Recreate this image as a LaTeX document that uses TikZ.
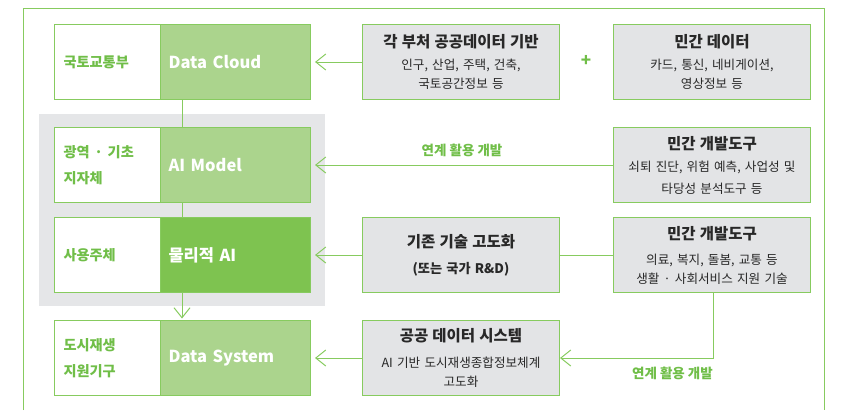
\documentclass[tikz,border=0pt]{standalone}
\usepackage{fontspec}
\setmainfont{Noto Sans CJK KR}
\usetikzlibrary{arrows.meta}
\definecolor{lgreen}{RGB}{171,212,141}
\definecolor{dgreen}{RGB}{126,195,80}
\definecolor{lineg}{RGB}{135,203,95}
\definecolor{greyfill}{RGB}{227,228,230}
\definecolor{bggrey}{RGB}{229,230,232}
\definecolor{txtgreen}{RGB}{112,190,72}
\definecolor{txtdark}{RGB}{40,40,40}
\tikzset{
  lbl/.style={draw=lineg, line width=1pt, fill=white, minimum width=106pt, minimum height=75pt,
    anchor=north west, text width=88pt, inner xsep=9pt, inner ysep=0pt, align=left,
    font=\fontsize{14.2}{25.5}\selectfont\bfseries, text=txtgreen},
  gbox/.style={draw=lineg, line width=1pt, fill=lgreen, minimum width=150pt, minimum height=75pt,
    anchor=north west, text width=134pt, inner xsep=8pt, inner ysep=0pt, align=left,
    font=\fontsize{16.5}{20}\selectfont\bfseries, text=white},
  rbox/.style={draw=lineg, line width=1pt, fill=greyfill, minimum width=197pt, minimum height=75pt,
    anchor=north west, text width=189pt, inner xsep=4pt, inner ysep=0pt, align=center,
    font=\fontsize{12.6}{19}\selectfont, text=txtdark},
  conn/.style={draw=lineg, line width=1pt},
  arr/.style={conn, -{Straight Barb[length=10pt,width=16pt]}, shorten >=4pt},
  glabel/.style={text=txtgreen, font=\fontsize{13.5}{15}\selectfont\bfseries, inner sep=0pt},
}
\newcommand{\boxtitle}[1]{{\bfseries\fontsize{15.5}{19}\selectfont #1}}
\begin{document}
\begin{tikzpicture}[x=1pt,y=-1pt]
\useasboundingbox (0,0) rectangle (854,410);
% outer frame
\draw[conn] (23,410) -- (23,8) -- (824,8) -- (824,410);
% grey background
\fill[bggrey] (39,114) rectangle (325,306);
% left column
\node[lbl] (l1) at (54,24) {국토교통부};
\node[gbox] (g1) at (160,24) {Data Cloud};
\node[lbl] (l2) at (54,127) {광역 · 기초\\지자체};
\node[gbox] (g2) at (160,127) {AI Model};
\node[lbl] (l3) at (54,217) {사용주체};
\node[gbox, fill=dgreen] (g3) at (160,217) {물리적 AI};
\node[lbl] (l4) at (54,320) {도시재생\\지원기구};
\node[gbox] (g4) at (160,320) {Data System};
% right column 1
\node[rbox] (r1) at (362,24) {\boxtitle{각 부처 공공데이터 기반}\\[3pt]인구, 산업, 주택, 건축,\\국토공간정보 등};
\node[rbox] (r3) at (362,217) {\boxtitle{기존 기술 고도화}\\[7pt]{\bfseries\fontsize{13.2}{15}\selectfont (또는 국가 R\&D)}};
\node[rbox] (r4) at (362,320) {\boxtitle{공공 데이터 시스템}\\[7pt]AI 기반 도시재생종합정보체계\\고도화};
% right column 2
\node[rbox] (s1) at (613,24) {\boxtitle{민간 데이터}\\[3pt]카드, 통신, 네비게이션,\\영상정보 등};
\node[rbox] (s2) at (613,127) {\boxtitle{민간 개발도구}\\[3pt]쇠퇴 진단, 위험 예측, 사업성 및\\[3pt]타당성 분석도구 등};
\node[rbox] (s3) at (613,217) {\boxtitle{민간 개발도구}\\[6pt]의료, 복지, 돌봄, 교통 등\\생활 · 사회서비스 지원 기술};
% plus
\node[glabel, font=\fontsize{17}{18}\selectfont\bfseries] (plus) at (586,61) {+};
% vertical connectors
\draw[conn] ([xshift=22pt]g1.south west) -- ([xshift=22pt]g2.north west);
\draw[conn] ([xshift=22pt]g2.south west) -- ([xshift=22pt]g3.north west);
\draw[arr, shorten >=1.5pt] ([xshift=22pt]g3.south west) -- ([xshift=22pt]g4.north west);
% horizontal connectors
\draw[arr] (r1.west) -- (g1.east);
\draw[arr] (s2.west) -- (g2.east) node[glabel, midway, above=8pt] (lab1) {연계 활용 개발};
\draw[conn] (s3.west) -- (r3.east);
\draw[arr] (r3.west) -- (g3.east);
\draw[arr] (r4.west) -- (g4.east);
\coordinate (k) at ([xshift=1pt]s3.south |- r4.east);
\draw[arr, shorten >=0pt] ([xshift=1pt]s3.south) -- (k) -- (r4.east);
\node[glabel, anchor=north east] (lab2) at ([yshift=-9pt]k) {연계 활용 개발};
\end{tikzpicture}
\end{document}
